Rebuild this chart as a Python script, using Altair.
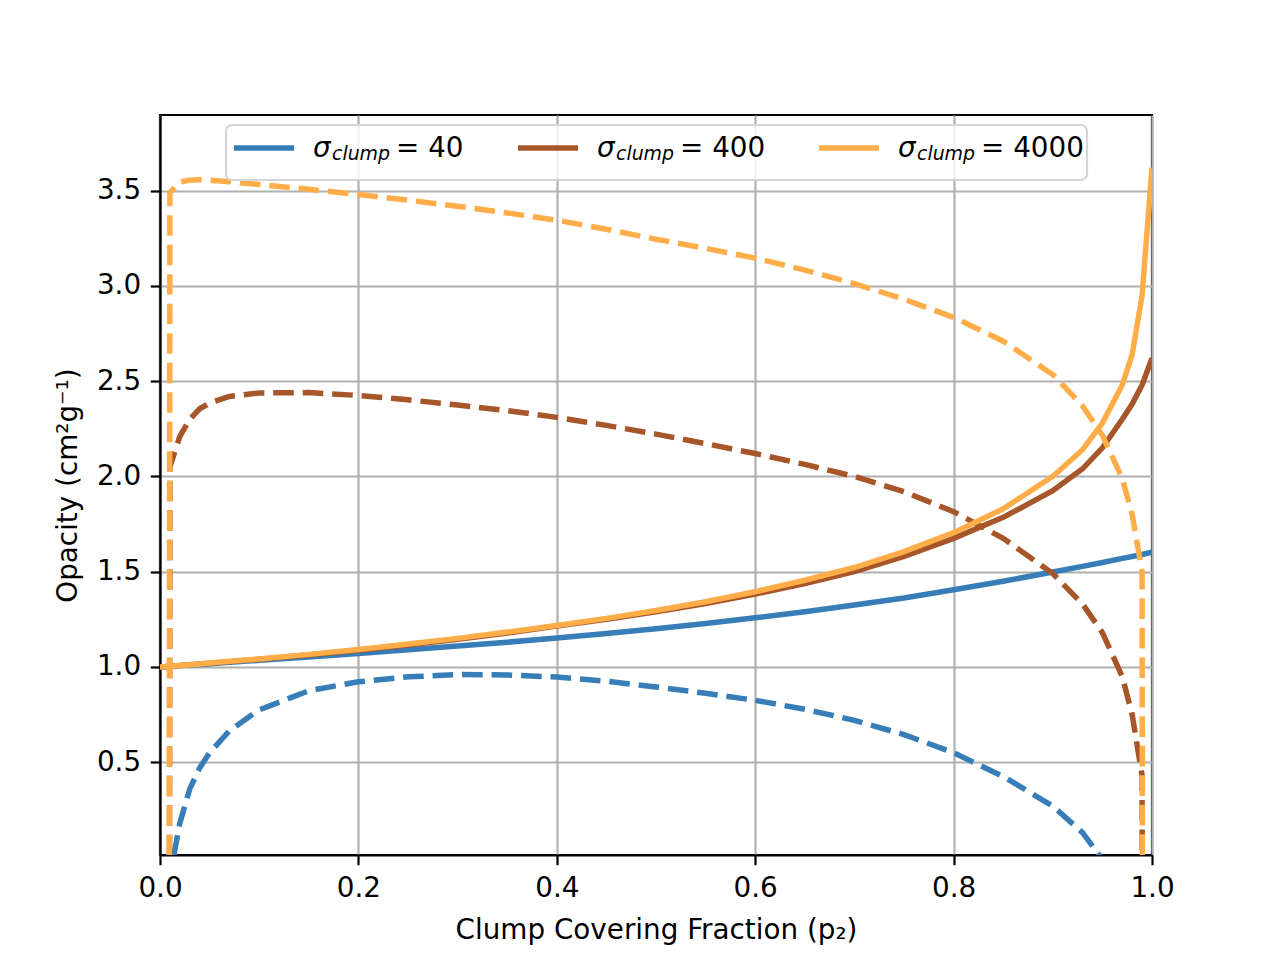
import altair as alt
import pandas as pd

# ---- data ----
p2 = [0, 0.01, 0.02, 0.03, 0.04, 0.05, 0.07, 0.1, 0.15, 0.2, 0.25, 0.3, 0.35, 0.4,
      0.45, 0.5, 0.55, 0.6, 0.65, 0.7, 0.75, 0.8, 0.85, 0.9, 0.93, 0.95, 0.97, 0.98,
      0.99, 1.0]

total_40 = [1.0, 1.003, 1.007, 1.01, 1.013, 1.017, 1.024, 1.035, 1.052, 1.07, 1.09, 1.11,
            1.13, 1.152, 1.175, 1.2, 1.228, 1.258, 1.29, 1.325, 1.362, 1.405, 1.45, 1.498,
            1.528, 1.548, 1.57, 1.58, 1.59, 1.603]
total_400 = [1.0, 1.004, 1.008, 1.012, 1.016, 1.02, 1.028, 1.04, 1.063, 1.088, 1.115, 1.145,
             1.178, 1.215, 1.25, 1.29, 1.333, 1.382, 1.437, 1.5, 1.58, 1.675, 1.785, 1.925,
             2.04, 2.15, 2.3, 2.38, 2.48, 2.62]
total_4000 = [1.0, 1.004, 1.008, 1.012, 1.016, 1.021, 1.03, 1.042, 1.066, 1.092, 1.12, 1.15,
              1.183, 1.218, 1.255, 1.296, 1.342, 1.395, 1.455, 1.522, 1.605, 1.705, 1.83, 2.0,
              2.14, 2.28, 2.48, 2.64, 2.95, 3.62]

dash_40 = [-50, -0.1, 0.18, 0.36, 0.47, 0.55, 0.665, 0.775, 0.875, 0.922, 0.948, 0.96,
           0.958, 0.947, 0.925, 0.895, 0.862, 0.825, 0.778, 0.72, 0.645, 0.55, 0.425, 0.27,
           0.13, -0.01, -0.3, -0.65, -1.5, -50]
dash_400 = [-50, 2.05, 2.21, 2.3, 2.355, 2.385, 2.42, 2.438, 2.44, 2.425, 2.402, 2.375,
            2.345, 2.31, 2.268, 2.222, 2.172, 2.12, 2.063, 2.0, 1.92, 1.815, 1.675, 1.49,
            1.33, 1.18, 0.95, 0.75, 0.43, -50]
dash_4000 = [-50, 3.49, 3.545, 3.555, 3.557, 3.555, 3.547, 3.532, 3.507, 3.48, 3.45, 3.418,
             3.383, 3.345, 3.297, 3.245, 3.197, 3.146, 3.083, 3.012, 2.93, 2.835, 2.71, 2.535,
             2.37, 2.215, 1.99, 1.8, 1.5, -50]

sigmas = ["40", "400", "4000"]
x_ticks = [0.0, 0.2, 0.4, 0.6, 0.8, 1.0]
y_ticks = [0.5, 1.0, 1.5, 2.0, 2.5, 3.0, 3.5]

series = {
    ("40", "solid"): total_40, ("40", "dashed"): dash_40,
    ("400", "solid"): total_400, ("400", "dashed"): dash_400,
    ("4000", "solid"): total_4000, ("4000", "dashed"): dash_4000,
}
rows = []
for (sig, kind), vals in series.items():
    for pv, v in zip(p2, vals):
        rows.append({"p": pv, "value": v, "series": f"{sig}_{kind}"})
df = pd.DataFrame(rows)

# ---- styles ----
colors = {"40": "#377eb8", "400": "#a65628", "4000": "#ffad49"}
FONT = "DejaVu Sans"
FS = 27.8
LW = 5.5
DASH = [20.6, 8.9]
W, H = 992, 740

x_enc = alt.X(
    "p:Q",
    scale=alt.Scale(domain=[0, 1], nice=False, zero=False),
    axis=alt.Axis(values=x_ticks, format=".1f", title="Clump Covering Fraction (p₂)",
                  titleX=W / 2, titleY=83, titleBaseline="alphabetic", titleAlign="center",
                  labelFlush=False, labelPadding=9.3),
)
y_enc = alt.Y(
    "value:Q",
    scale=alt.Scale(domain=[0.013, 3.897], nice=False, zero=False),
    axis=alt.Axis(values=y_ticks, format=".1f", title="Opacity (cm²g⁻¹)",
                  titleX=-84, titleY=H / 2, titleBaseline="alphabetic", titleAlign="center",
                  titleAngle=270, labelPadding=9.7),
)

base = alt.Chart(df)
layers = []
for sig in sigmas:
    for kind in ["solid", "dashed"]:
        mk = dict(color=colors[sig], strokeWidth=LW, clip=True)
        if kind == "dashed":
            mk["strokeDash"] = DASH
            mk["strokeCap"] = "butt"
        layers.append(
            base.transform_filter(alt.datum.series == f"{sig}_{kind}")
            .mark_line(**mk)
            .encode(x=x_enc, y=y_enc)
        )

# ---- custom legend (box, handles, mixed-style labels) ----
one = alt.Chart(pd.DataFrame({"k": [0]}))
layers.append(
    one.mark_rect(fill="white", fillOpacity=0.8, stroke="#d5d5d5", strokeWidth=2.2,
                  cornerRadius=6)
    .encode(x=alt.value(66), x2=alt.value(927), y=alt.value(10), y2=alt.value(65))
)
offsets = [0, 284, 585]
for sig, off in zip(sigmas, offsets):
    layers.append(
        one.mark_rule(color=colors[sig], strokeWidth=LW)
        .encode(x=alt.value(74 + off), x2=alt.value(134 + off), y=alt.value(33))
    )
    layers.append(
        one.mark_text(text="σ", font=FONT, fontSize=FS, fontStyle="italic",
                      align="left", baseline="alphabetic", color="black")
        .encode(x=alt.value(153 + off), y=alt.value(42))
    )
    layers.append(
        one.mark_text(text="clump", font=FONT, fontSize=FS * 0.68, fontStyle="italic",
                      align="left", baseline="alphabetic", color="black")
        .encode(x=alt.value(172 + off), y=alt.value(45))
    )
    layers.append(
        one.mark_text(text=f"= {sig}", font=FONT, fontSize=FS,
                      align="left", baseline="alphabetic", color="black")
        .encode(x=alt.value(236 + off), y=alt.value(42))
    )

chart = (
    alt.layer(*layers)
    .properties(width=W, height=H, background="white",
                autosize=alt.AutoSizeParams(type="none"),
                padding={"left": 152, "top": 107, "right": 120, "bottom": 97})
    .configure_view(stroke="black", strokeWidth=2.2)
    .configure_axis(
        labelFont=FONT, labelFontSize=FS, labelColor="black",
        titleFont=FONT, titleFontSize=FS, titleColor="black", titleFontWeight="normal",
        tickColor="black", tickWidth=2.2, tickSize=9.7,
        domainColor="black", domainWidth=2.2,
        gridColor="#b0b0b0", gridWidth=2.2, gridOpacity=1,
    )
)

chart.save("out.html", embed_options={"renderer": "svg", "actions": False})
